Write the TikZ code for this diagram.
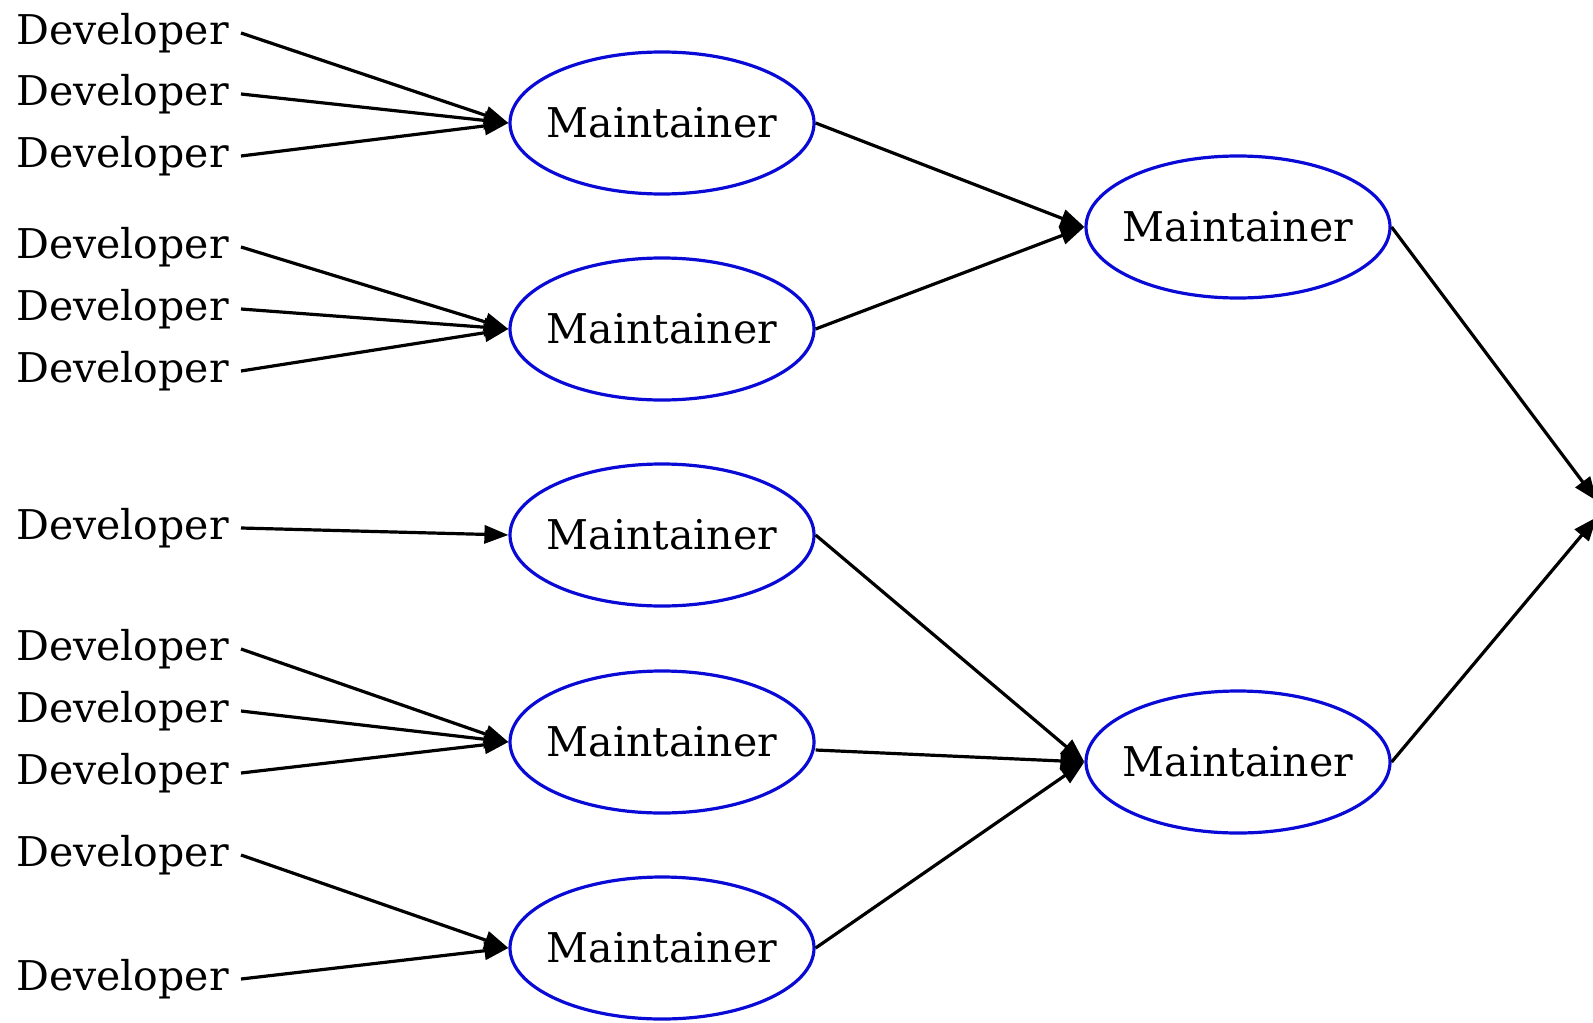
\documentclass[tikz,border=0pt]{standalone}
\usepackage{fontspec}
\setmainfont{DejaVu Serif}
\usetikzlibrary{shapes.geometric,arrows.meta}
\definecolor{maintblue}{RGB}{10,10,215}

\begin{document}
\begin{tikzpicture}[x=0.5pt, y=-0.5pt,
    dev/.style={anchor=east, inner xsep=6pt, inner ysep=0pt,
        font=\fontsize{20.5}{24}\selectfont},
    maint/.style={ellipse, draw=maintblue, line width=1.6pt,
        minimum width=152pt, minimum height=71pt, inner xsep=-4pt, inner ysep=0pt,
        font=\fontsize{20.5}{24}\selectfont},
    link/.style={-{Triangle[length=12pt,width=9pt]}, line width=1.6pt}]
\useasboundingbox (0,0) rectangle (1593,1022);

% maintainers, first column
\node[maint] (m1) at (662,123) {Maintainer};
\node[maint] (m2) at (662,329) {Maintainer};
\node[maint] (m3) at (662,535) {Maintainer};
\node[maint] (m4) at (662,742) {Maintainer};
\node[maint] (m5) at (662,948) {Maintainer};

% maintainers, second column
\node[maint] (r1) at (1238,227) {Maintainer};
\node[maint] (r2) at (1238,762) {Maintainer};

% top of the tree (off the page)
\coordinate (top1) at (1597,501);
\coordinate (top2) at (1597,517);

% developers
\node[dev] (d1) at (241,33) {Developer};
\node[dev] (d2) at (241,94) {Developer};
\node[dev] (d3) at (241,156) {Developer};
\node[dev] (d4) at (241,247) {Developer};
\node[dev] (d5) at (241,309) {Developer};
\node[dev] (d6) at (241,371) {Developer};
\node[dev] (d7) at (241,528) {Developer};
\node[dev] (d8) at (241,649) {Developer};
\node[dev] (d9) at (241,711) {Developer};
\node[dev] (d10) at (241,773) {Developer};
\node[dev] (d11) at (241,855) {Developer};
\node[dev] (d12) at (241,979) {Developer};

% developer -> maintainer
\draw[link] (d1.east) -- (m1.west);
\draw[link] (d2.east) -- (m1.west);
\draw[link] (d3.east) -- (m1.west);
\draw[link] (d4.east) -- (m2.west);
\draw[link] (d5.east) -- (m2.west);
\draw[link] (d6.east) -- (m2.west);
\draw[link] (d7.east) -- (m3.west);
\draw[link] (d8.east) -- (m4.west);
\draw[link] (d9.east) -- (m4.west);
\draw[link] (d10.east) -- (m4.west);
\draw[link] (d11.east) -- (m5.west);
\draw[link] (d12.east) -- (m5.west);

% maintainer -> maintainer
\draw[link] (m1.east) -- (r1.west);
\draw[link] (m2.east) -- (r1.west);
\draw[link] (m3.east) -- (r2.west);
\draw[link] ([yshift=-4]m4.east) -- (r2.west);
\draw[link] (m5.east) -- (r2.west);
\draw[link] (r1.east) -- (top1);
\draw[link] (r2.east) -- (top2);
\end{tikzpicture}
\end{document}
